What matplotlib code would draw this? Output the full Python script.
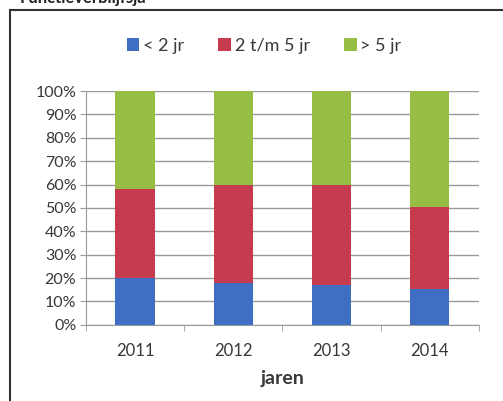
import matplotlib.pyplot as plt
import numpy as np
from matplotlib.patches import Patch
from matplotlib.ticker import PercentFormatter

# Data (shares in %)
years = ['2011', '2012', '2013', '2014']
under_2 = [20, 18, 17, 15.5]
two_to_5 = [38, 42, 43, 35]
over_5 = [42, 40, 40, 49.5]
series_names = ['< 2 jr', '2 t/m 5 jr', '> 5 jr']
colors = ['#3F6FC2', '#C63B4D', '#98BD45']

plt.rcParams['font.family'] = ['Lato', 'DejaVu Sans']
text_col = '#383838'
grid_col = '#9A9A9A'

fig = plt.figure(figsize=(5.03, 4.01), dpi=100)
ax = fig.add_axes([0.171, 0.19, 0.781, 0.583])

x = np.arange(len(years))
bottom = np.zeros(len(years))
for vals, col in zip([under_2, two_to_5, over_5], colors):
    ax.bar(x, vals, 0.4, bottom=bottom, color=col, zorder=3)
    bottom += np.array(vals)

ax.set_xlim(-0.5, len(years) - 0.5)
ax.set_ylim(0, 100)
ax.set_yticks(range(0, 101, 10))
ax.yaxis.set_major_formatter(PercentFormatter(decimals=0))
ax.set_xticks(x)
ax.set_xticklabels(years)
ax.set_xticks(np.arange(-0.5, len(years)), minor=True)
ax.tick_params(axis='x', which='major', length=0, labelsize=12, colors=text_col, pad=13)
ax.tick_params(axis='x', which='minor', length=4, color=grid_col, direction='out')
ax.tick_params(axis='y', length=4, color=grid_col, labelsize=11.5, labelcolor=text_col, pad=3)
ax.grid(axis='y', color=grid_col, linewidth=1, zorder=0)

for side in ['top', 'right']:
    ax.spines[side].set_visible(False)
for side in ['left', 'bottom']:
    ax.spines[side].set_color(grid_col)

ax.set_xlabel('jaren', fontsize=14, fontweight='bold', color=text_col, labelpad=8)

handles = [Patch(facecolor=c, edgecolor='none') for c in colors]
fig.legend(handles, series_names, loc='center', bbox_to_anchor=(0.525, 0.885), ncol=3,
           frameon=False, fontsize=13, labelcolor=text_col, handlelength=0.7, handleheight=0.7,
           handletextpad=0.2, columnspacing=1.9)

# outer frame of the embedded chart
fig.add_artist(plt.Line2D([0.02, 0.02], [0.0, 0.975], color='#333333', linewidth=1.5))
fig.add_artist(plt.Line2D([0.02, 1.0], [0.975, 0.975], color='#333333', linewidth=1.5))
# heading above the chart, cut off by the top edge as in the scan
fig.text(0.04, 0.985, 'Functieverblijfsja', fontsize=12, fontweight='bold', color='#222222', va='bottom')

fig.savefig('out.png', dpi=100)
